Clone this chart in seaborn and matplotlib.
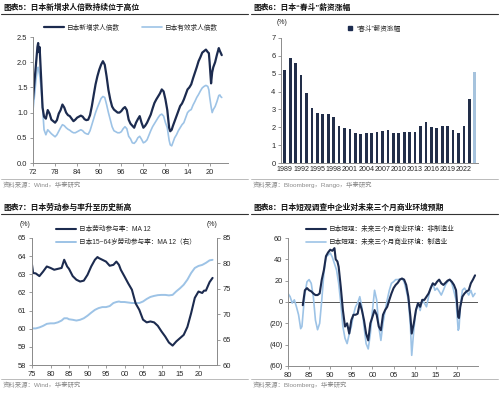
import numpy as np
import pandas as pd
import matplotlib
matplotlib.use('Agg')
import matplotlib.pyplot as plt
from matplotlib.lines import Line2D
import seaborn as sns

# --- DATOS: panel 1, ratios de oferta de empleo ---
P1_YEARS = [1972.0, 1972.5, 1972.8, 1973.2, 1973.4, 1973.6, 1973.8, 1974.2, 1974.6, 1975.0,
            1975.5, 1976.0, 1976.5, 1977.0, 1977.5, 1978.0, 1978.5, 1979.0, 1979.5, 1980.0,
            1980.5, 1981.0, 1981.5, 1982.0, 1982.5, 1983.0, 1983.5, 1984.0, 1984.5, 1985.0,
            1985.5, 1986.0, 1986.5, 1987.0, 1987.5, 1988.0, 1988.5, 1989.0, 1989.5, 1990.0,
            1990.5, 1991.0, 1991.5, 1992.0, 1992.5, 1993.0, 1993.5, 1994.0, 1994.5, 1995.0,
            1995.5, 1996.0, 1996.5, 1997.0, 1997.5, 1998.0, 1998.5, 1999.0, 1999.5, 2000.0,
            2000.5, 2001.0, 2001.5, 2002.0, 2002.5, 2003.0, 2003.5, 2004.0, 2004.5, 2005.0,
            2005.5, 2006.0, 2006.5, 2007.0, 2007.5, 2008.0, 2008.5, 2009.0, 2009.3, 2009.7,
            2010.0, 2010.5, 2011.0, 2011.5, 2012.0, 2012.5, 2013.0, 2013.5, 2014.0, 2014.5,
            2015.0, 2015.5, 2016.0, 2016.5, 2017.0, 2017.5, 2018.0, 2018.5, 2019.0, 2019.5,
            2019.8, 2020.0, 2020.4, 2020.7, 2021.0, 2021.5, 2022.0, 2022.5, 2022.8, 2023.0,
            2023.3]
P1_NEW = [1.26, 1.70, 1.95, 2.30, 2.38, 2.20, 2.30, 1.70, 1.10, 0.92,
          0.88, 1.05, 0.98, 0.86, 0.83, 0.80, 0.85, 0.98, 1.05, 1.16,
          1.10, 1.00, 0.95, 0.93, 0.88, 0.83, 0.86, 0.90, 0.92, 0.94,
          0.92, 0.87, 0.85, 0.86, 0.95, 1.13, 1.35, 1.56, 1.72, 1.85,
          1.95, 2.02, 1.95, 1.72, 1.45, 1.26, 1.12, 1.06, 1.03, 1.00,
          1.00, 1.03, 1.08, 1.11, 1.05, 0.86, 0.78, 0.74, 0.70, 0.80,
          0.87, 0.93, 0.80, 0.70, 0.74, 0.80, 0.88, 0.96, 1.08, 1.19,
          1.26, 1.32, 1.38, 1.46, 1.42, 1.26, 1.05, 0.70, 0.63, 0.66,
          0.73, 0.83, 0.93, 1.03, 1.13, 1.18, 1.26, 1.36, 1.46, 1.50,
          1.56, 1.68, 1.79, 1.90, 2.02, 2.10, 2.19, 2.22, 2.25, 2.20,
          2.18, 2.00, 1.58, 1.80, 1.90, 2.00, 2.15, 2.28, 2.22, 2.19,
          2.14]
P1_EFF = [1.05, 1.40, 1.65, 1.88, 1.90, 1.82, 1.75, 1.50, 1.10, 0.66,
          0.56, 0.66, 0.62, 0.58, 0.55, 0.52, 0.56, 0.63, 0.70, 0.76,
          0.74, 0.70, 0.67, 0.65, 0.62, 0.60, 0.60, 0.62, 0.64, 0.66,
          0.64, 0.60, 0.58, 0.57, 0.64, 0.76, 0.88, 1.00, 1.10, 1.19,
          1.28, 1.32, 1.30, 1.16, 1.00, 0.86, 0.72, 0.64, 0.62, 0.60,
          0.60, 0.62, 0.68, 0.72, 0.68, 0.53, 0.48, 0.40, 0.39, 0.43,
          0.50, 0.53, 0.47, 0.40, 0.42, 0.46, 0.55, 0.64, 0.72, 0.78,
          0.84, 0.90, 0.95, 0.97, 0.93, 0.80, 0.70, 0.45, 0.36, 0.34,
          0.40, 0.50, 0.56, 0.64, 0.70, 0.76, 0.80, 0.90, 1.00, 1.04,
          1.06, 1.15, 1.22, 1.30, 1.36, 1.43, 1.49, 1.52, 1.54, 1.52,
          1.45, 1.32, 1.12, 1.00, 1.06, 1.12, 1.22, 1.34, 1.35, 1.32,
          1.30]

# --- DATOS: panel 2, shunto ---
P2_YEARS = [str(y) for y in range(1989, 2025)]
P2_RISE = [5.2, 5.9, 5.6, 4.95, 3.9, 3.1, 2.8, 2.75, 2.75, 2.6,
           2.1, 1.95, 1.93, 1.7, 1.6, 1.7, 1.7, 1.75, 1.8, 1.83,
           1.7, 1.7, 1.72, 1.75, 1.72, 2.1, 2.3, 2.0, 1.95, 2.1,
           2.1, 1.85, 1.7, 2.05, 3.6, 5.1]
P2_KIND = ['actual'] * 35 + ['latest']

# --- DATOS: panel 3, participación laboral ---
P3_YEARS = [1975.0, 1975.3, 1976, 1977, 1978, 1979, 1980, 1981, 1982, 1983,
            1983.7, 1984.5, 1985, 1986, 1987, 1988, 1989, 1990, 1991, 1992,
            1992.7, 1993, 1994, 1995, 1996, 1997, 1997.8, 1998.5, 1999, 2000,
            2001, 2002, 2003, 2004, 2005, 2006, 2007, 2008, 2009, 2010,
            2011, 2012, 2013, 2014, 2015, 2016, 2017, 2018, 2019, 2020,
            2021, 2021.5, 2022, 2023, 2023.8]
P3_ALL = [63.53, 63.07, 63.05, 62.9, 63.15, 63.43, 63.35, 63.25, 63.3, 63.35,
          63.8, 63.43, 63.3, 62.9, 62.7, 62.6, 62.65, 62.97, 63.43, 63.8,
          63.95, 63.9, 63.8, 63.7, 63.47, 63.52, 63.7, 63.52, 63.25, 62.88,
          62.5, 62.15, 61.4, 61.04, 60.5, 60.35, 60.4, 60.35, 60.16, 59.85,
          59.57, 59.24, 59.07, 59.3, 59.48, 59.66, 60.1, 60.85, 61.7, 62.05,
          61.97, 62.1, 62.1, 62.57, 62.8]
P3_1564 = [67.2, 67.2, 67.2, 67.4, 67.7, 68.1, 68.2, 68.2, 68.4, 68.75,
           69.2, 69.2, 69.0, 68.9, 68.75, 68.9, 69.2, 69.7, 70.3, 70.85,
           71.1, 71.2, 71.4, 71.4, 71.6, 72.2, 72.4, 72.5, 72.4, 72.4,
           72.3, 72.2, 72.2, 72.2, 72.5, 73.0, 73.4, 73.6, 73.75, 73.8,
           73.8, 73.7, 73.8, 74.5, 75.1, 75.8, 76.8, 78.1, 79.1, 79.5,
           79.7, 79.9, 80.1, 80.6, 80.7]

# --- DATOS: panel 4, Tankan ---
P4_MFG_YEARS = [1980.0, 1980.5, 1981.0, 1981.5, 1982.0, 1982.5, 1983.0, 1983.3, 1983.7, 1984.0,
                1984.5, 1985.0, 1985.5, 1986.0, 1986.5, 1987.0, 1987.5, 1988.0, 1988.5, 1989.0,
                1989.5, 1990.0, 1990.5, 1991.0, 1991.5, 1992.0, 1992.5, 1993.0, 1993.5, 1994.0,
                1994.5, 1995.0, 1995.5, 1996.0, 1996.5, 1997.0, 1997.5, 1998.0, 1998.5, 1999.0,
                1999.5, 2000.0, 2000.5, 2001.0, 2001.5, 2002.0, 2002.5, 2003.0, 2003.5, 2004.0,
                2004.5, 2005.0, 2005.5, 2006.0, 2006.5, 2007.0, 2007.5, 2008.0, 2008.5, 2009.0,
                2009.3, 2009.8, 2010.3, 2010.8, 2011.3, 2011.8, 2012.3, 2012.8, 2013.3, 2013.8,
                2014.3, 2014.8, 2015.3, 2015.8, 2016.3, 2016.8, 2017.3, 2017.8, 2018.3, 2018.8,
                2019.3, 2019.8, 2020.3, 2020.5, 2020.8, 2021.3, 2021.8, 2022.3, 2022.8, 2023.3,
                2023.8, 2024.3]
P4_MFG = [8, 5, -1, 2, -4.5, -12, -25, -23, -4.5, 8,
          19, 21, 17.5, 5, -17, -26, -20, 2, 27, 42,
          44, 46, 42, 36, 30, 17.5, -1, -23, -34, -39,
          -30, -23, -12, -4.5, -1, 5, -4.5, -23, -39, -44,
          -30, -8, 11, 2, -23, -36, -20, -8, 2, 11,
          17.5, 19, 21, 21, 21.5, 22, 19, 11, 2, -23,
          -50, -26, -8, -1, -8, 2, -1, -4.5, 5, 14,
          17.5, 11, 13, 10, 6.5, 11, 16, 19, 21, 17.5,
          10, 2, -26.5, -25, -4.5, 11, 13, 10, 6.5, 11,
          5, 8]
P4_NONMFG_YEARS = [1983.5, 1984.0, 1984.5, 1985.0, 1985.5, 1986.0, 1986.5, 1987.0, 1987.5, 1988.0,
                   1988.5, 1989.0, 1989.5, 1990.0, 1990.5, 1991.0, 1991.3, 1991.7, 1992.0, 1992.5,
                   1993.0, 1993.5, 1994.0, 1994.5, 1995.0, 1995.5, 1996.0, 1996.5, 1997.0, 1997.5,
                   1998.0, 1998.5, 1999.0, 1999.5, 2000.0, 2000.5, 2001.0, 2001.5, 2002.0, 2002.5,
                   2003.0, 2003.5, 2004.0, 2004.5, 2005.0, 2005.5, 2006.0, 2006.5, 2007.0, 2007.5,
                   2008.0, 2008.5, 2009.0, 2009.3, 2009.8, 2010.3, 2010.8, 2011.3, 2011.8, 2012.3,
                   2012.8, 2013.3, 2013.8, 2014.3, 2014.8, 2015.3, 2015.8, 2016.3, 2016.8, 2017.3,
                   2017.8, 2018.3, 2018.8, 2019.3, 2019.8, 2020.3, 2020.5, 2020.8, 2021.3, 2021.8,
                   2022.3, 2022.8, 2023.3, 2023.8, 2024.3]
P4_NONMFG = [-3, 11, 13, 11, 10, 8, 6.5, 6.5, 8, 21,
             30, 43, 46.5, 49, 48, 50.5, 40, 38, 33, 14,
             -7.6, -23, -20, -29.6, -17, -12, -12, -11, -1, -7.6,
             -17, -29.6, -36, -20, -14, -7.6, -12, -23, -26.5, -12,
             -7.6, -4.5, 2, 8, 13, 16, 18, 21, 22, 21,
             16, 5, -14, -29.6, -20, -7.6, -1, -4.5, 2, 2,
             5, 8, 13, 17.5, 16, 19, 21, 17.5, 16, 18,
             20, 21, 19, 16, 11, -14, -15, -4.5, 5, 8,
             10, 11, 17.5, 21, 25]

# --- ESTILO ---
DARK = '#1c2b4f'
LIGHT = '#9dc3e6'
SPINE = '#8c8c8c'
TXT = '#262626'
W, H = 500, 395

sns.set_style('ticks')
plt.rcParams['font.family'] = ['Liberation Sans', 'Noto Sans CJK SC']
plt.rcParams['axes.edgecolor'] = SPINE
plt.rcParams['axes.linewidth'] = 0.7
plt.rcParams['xtick.color'] = SPINE
plt.rcParams['ytick.color'] = SPINE
plt.rcParams['xtick.labelcolor'] = TXT
plt.rcParams['ytick.labelcolor'] = TXT
plt.rcParams['xtick.major.size'] = 2
plt.rcParams['ytick.major.size'] = 2
plt.rcParams['xtick.major.width'] = 0.6
plt.rcParams['ytick.major.width'] = 0.6
plt.rcParams['xtick.major.pad'] = 2
plt.rcParams['ytick.major.pad'] = 2
plt.rcParams['xtick.labelsize'] = 5.4
plt.rcParams['ytick.labelsize'] = 5.4


def box(x0, y0, x1, y1):
    return [x0 / W, 1 - y1 / H, (x1 - x0) / W, (y1 - y0) / H]


def hline(fig, x0, x1, y, color, lw):
    fig.add_artist(Line2D([x0 / W, x1 / W], [1 - y / H, 1 - y / H],
                          transform=fig.transFigure, color=color, lw=lw))


def marco(fig, x0, y0, titulo, fuente):
    # titulo, raya bajo el titulo, fuente y raya encima de la fuente
    fig.text((x0 + 3) / W, 1 - (y0 + 8) / H, titulo, fontsize=5.6, fontweight='bold',
             color='#111111', va='center', ha='left')
    hline(fig, x0 + 1, x0 + 248, y0 + 14, '#333333', 0.8)
    hline(fig, x0 + 1, x0 + 248, y0 + 179, '#b0b0b0', 0.6)
    fig.text((x0 + 3) / W, 1 - (y0 + 185) / H, fuente, fontsize=4.6, color='#8a8a8a',
             va='center', ha='left')


def limpiar(ax):
    ax.set_xlabel('')
    ax.set_ylabel('')
    sns.despine(ax=ax)


fig = plt.figure(figsize=(5.0, 3.95), dpi=100)

# --- PANEL 1 ---
df1 = pd.DataFrame({'year': P1_YEARS, 'new': P1_NEW, 'eff': P1_EFF})
ax1 = fig.add_axes(box(33, 37, 228, 163))
sns.lineplot(data=df1, x='year', y='eff', color=LIGHT, lw=1.2, ax=ax1)
sns.lineplot(data=df1, x='year', y='new', color=DARK, lw=1.6, ax=ax1)
ax1.set_xlim(1972, 2025)
ax1.set_ylim(0, 2.5)
ax1.set_yticks([0, 0.5, 1.0, 1.5, 2.0, 2.5])
ax1.set_yticklabels(['0.0', '0.5', '1.0', '1.5', '2.0', '2.5'])
ax1.set_xticks([1972, 1978, 1984, 1990, 1996, 2002, 2008, 2014, 2020])
ax1.set_xticklabels(['72', '78', '84', '90', '96', '02', '08', '14', '20'])
limpiar(ax1)
h1 = [Line2D([], [], color=DARK, lw=1.6), Line2D([], [], color=LIGHT, lw=1.2)]
fig.legend(h1, ['日本新增求人倍数', '日本有效求人倍数'], loc='center left',
           bbox_to_anchor=(44 / W, 1 - 28 / H), ncol=2, frameon=False, fontsize=4.8,
           handlelength=3.0, handletextpad=0.5, columnspacing=3.2, borderpad=0, borderaxespad=0)
marco(fig, 0, 0, '图表5：日本新增求人倍数持续位于高位', '资料来源：Wind，华泰研究')

# --- PANEL 2 ---
df2 = pd.DataFrame({'year': P2_YEARS, 'rise': P2_RISE, 'kind': P2_KIND})
ax2 = fig.add_axes(box(281, 38, 478, 163))
sns.barplot(data=df2, x='year', y='rise', hue='kind', dodge=False, width=0.5,
            palette={'actual': DARK, 'latest': LIGHT}, legend=False, linewidth=0, ax=ax2)
ax2.set_xlim(-0.7, 35.6)
ax2.set_ylim(0, 7)
ax2.set_yticks(range(0, 8))
ax2.set_xticks(range(0, 36, 3))
ax2.set_xticklabels(P2_YEARS[::3])
ax2.tick_params(axis='x', length=0, labelsize=5.1)
limpiar(ax2)
fig.text(277 / W, 1 - 23 / H, '(%)', fontsize=5.0, color=TXT, va='center', ha='left')
h2 = [Line2D([], [], color=DARK, marker='s', ls='', markersize=2.6)]
fig.legend(h2, ['“春斗”薪资涨幅'], loc='center left', bbox_to_anchor=(347 / W, 1 - 29 / H),
           frameon=False, fontsize=4.8, handlelength=1.0, handletextpad=0.4,
           borderpad=0, borderaxespad=0)
marco(fig, 250, 0, '图表6：日本“春斗”薪资涨幅', '资料来源：Bloomberg，Rango，华泰研究')

# --- PANEL 3 ---
df3 = pd.DataFrame({'year': P3_YEARS, 'all': P3_ALL, 'y1564': P3_1564})
ax3 = fig.add_axes(box(32, 238, 217, 365))
ax3r = ax3.twinx()
sns.lineplot(data=df3, x='year', y='y1564', color=LIGHT, lw=1.4, ax=ax3r)
sns.lineplot(data=df3, x='year', y='all', color=DARK, lw=1.5, ax=ax3)
ax3.set_zorder(ax3r.get_zorder() + 1)
ax3.patch.set_visible(False)
ax3.set_xlim(1975, 2025)
ax3.set_ylim(58, 65)
ax3r.set_ylim(60, 85)
ax3.set_yticks(range(58, 66))
ax3r.set_yticks(range(60, 86, 5))
ax3.set_xticks(range(1975, 2021, 5))
ax3.set_xticklabels(['75', '80', '85', '90', '95', '00', '05', '10', '15', '20'])
for a in (ax3, ax3r):
    a.set_xlabel('')
    a.set_ylabel('')
    a.spines['top'].set_visible(False)
fig.text(25 / W, 1 - 224 / H, '(%)', fontsize=5.0, color=TXT, va='center', ha='center')
fig.text(212 / W, 1 - 224 / H, '(%)', fontsize=5.0, color=TXT, va='center', ha='center')
h3 = [Line2D([], [], color=DARK, lw=1.5), Line2D([], [], color=LIGHT, lw=1.4)]
fig.legend(h3, ['日本劳动参与率：MA 12', '日本15~64岁劳动参与率：MA 12（右）'], loc='upper left',
           bbox_to_anchor=(56 / W, 1 - 226 / H), frameon=False, fontsize=4.8,
           handlelength=3.0, handletextpad=0.5, labelspacing=0.9, borderpad=0, borderaxespad=0)
marco(fig, 0, 200, '图表7：日本劳动参与率升至历史新高', '资料来源：Wind，华泰研究')

# --- PANEL 4 ---
df4a = pd.DataFrame({'year': P4_MFG_YEARS, 'val': P4_MFG})
df4b = pd.DataFrame({'year': P4_NONMFG_YEARS, 'val': P4_NONMFG})
ax4 = fig.add_axes(box(288, 238, 478, 366))
ax4.axhline(0, color='#3a3a3a', lw=0.6)
sns.lineplot(data=df4a, x='year', y='val', color=LIGHT, lw=1.2, ax=ax4)
sns.lineplot(data=df4b, x='year', y='val', color=DARK, lw=1.5, ax=ax4)
ax4.set_xlim(1980, 2025)
ax4.set_ylim(-60, 60)
ax4.set_yticks(range(-60, 61, 20))
ax4.set_yticklabels(['(60)', '(40)', '(20)', '0', '20', '40', '60'])
ax4.set_xticks(range(1980, 2021, 5))
ax4.set_xticklabels(['80', '85', '90', '95', '00', '05', '10', '15', '20'])
limpiar(ax4)
h4 = [Line2D([], [], color=DARK, lw=1.5), Line2D([], [], color=LIGHT, lw=1.2)]
fig.legend(h4, ['日本短观：未来三个月商业环境：非制造业', '日本短观：未来三个月商业环境：制造业'],
           loc='upper left', bbox_to_anchor=(306 / W, 1 - 226 / H), frameon=False, fontsize=4.8,
           handlelength=3.0, handletextpad=0.5, labelspacing=0.9, borderpad=0, borderaxespad=0)
marco(fig, 250, 200, '图表8：日本短观调查中企业对未来三个月商业环境预期', '资料来源：Bloomberg，华泰研究')

fig.savefig('out.png', dpi=100)
plt.close(fig)
